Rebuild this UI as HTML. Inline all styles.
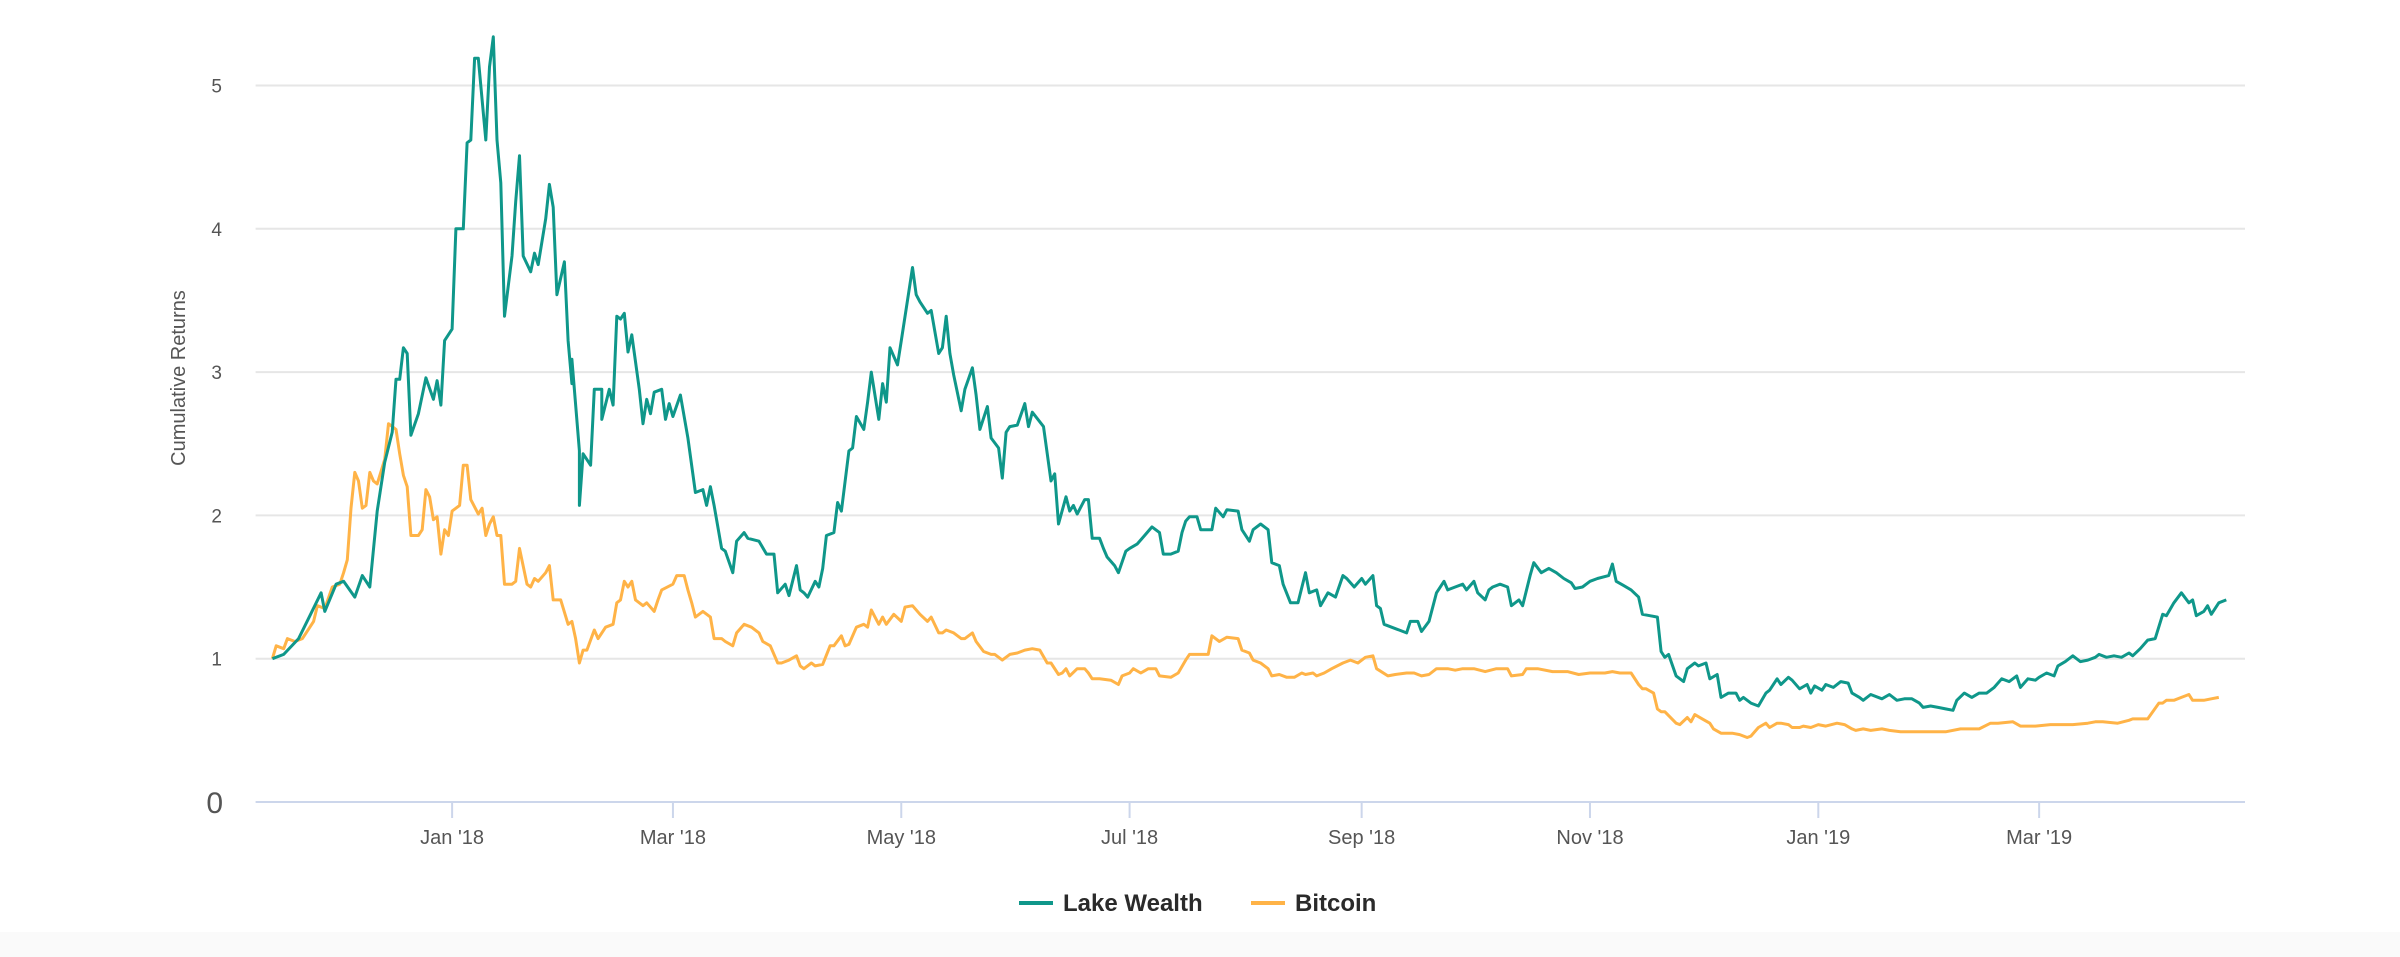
<!DOCTYPE html>
<html><head><meta charset="utf-8"><style>
html,body{margin:0;padding:0;background:#fff;}
body{width:2400px;height:957px;overflow:hidden;position:relative;font-family:"Liberation Sans",sans-serif;}
#band{position:absolute;left:0;top:932px;width:2400px;height:25px;background:#fafafa;}
svg{position:absolute;left:0;top:0;}
</style></head><body>
<div id="band"></div>
<svg id="chart" width="2400" height="957"></svg>
<script>
// days relative to 2018-01-01
const lakeDays=[-48,-45,-41,-38,-35,-34,-31,-29,-26,-24,-22,-20,-18,-16,-15,-14,-13,-12,-11,-9,-7,-5,-4,-3,-2,0,1,3,4,5,6,7,9,10,11,12,13,14,16,17,18,19,21,22,23,25,26,27,28,30,31,32,32,34,34,35,37,38,40,40,42,43,44,45,46,47,48,50,51,52,53,54,56,57,58,59,61,63,65,67,68,69,70,72,73,75,76,78,79,82,84,86,87,89,90,92,93,94,95,97,98,99,100,102,103,104,106,107,108,110,111,112,114,115,116,117,119,120,122,123,124,125,127,128,130,131,132,133,134,136,137,139,140,141,143,144,146,147,148,149,151,153,154,155,158,160,161,162,164,165,166,167,169,170,171,173,174,175,177,178,180,181,183,185,187,189,190,192,194,195,196,197,199,200,203,204,206,207,210,211,213,214,216,218,219,221,222,224,226,228,229,231,232,234,236,238,239,241,243,244,246,247,248,249,251,253,255,256,258,259,261,263,265,266,268,270,271,273,274,276,277,278,280,282,283,285,286,288,289,291,293,295,297,299,300,302,304,306,309,310,311,313,315,317,318,320,322,323,324,325,327,329,330,332,333,335,336,338,339,341,343,344,345,347,349,351,352,354,355,357,358,360,362,363,364,366,367,369,371,373,374,376,377,379,382,384,386,388,390,392,393,395,397,399,401,402,404,406,408,410,412,414,416,418,419,421,423,424,426,428,429,431,433,435,437,439,440,442,444,446,448,449,451,453,455,457,458,460,462,464,465,466,468,469,470,472,474];
const lakeVals=[1.00,1.03,1.14,1.30,1.46,1.33,1.52,1.54,1.43,1.58,1.50,2.03,2.37,2.58,2.95,2.95,3.17,3.13,2.56,2.71,2.96,2.81,2.94,2.77,3.22,3.30,4.00,4.00,4.60,4.62,5.19,5.19,4.62,5.13,5.34,4.62,4.32,3.39,3.81,4.19,4.51,3.81,3.70,3.83,3.75,4.07,4.31,4.15,3.54,3.77,3.22,2.92,3.09,2.45,2.07,2.43,2.35,2.88,2.88,2.67,2.88,2.77,3.39,3.37,3.41,3.14,3.26,2.88,2.64,2.81,2.71,2.86,2.88,2.67,2.78,2.69,2.84,2.54,2.16,2.18,2.07,2.20,2.07,1.77,1.75,1.60,1.82,1.88,1.84,1.82,1.73,1.73,1.46,1.52,1.44,1.65,1.48,1.46,1.43,1.54,1.50,1.63,1.86,1.88,2.09,2.03,2.45,2.47,2.69,2.60,2.79,3.00,2.67,2.92,2.79,3.17,3.05,3.22,3.56,3.73,3.54,3.49,3.41,3.43,3.13,3.17,3.39,3.13,2.98,2.73,2.88,3.03,2.84,2.60,2.76,2.54,2.47,2.26,2.58,2.62,2.63,2.78,2.62,2.72,2.62,2.24,2.29,1.94,2.13,2.03,2.07,2.01,2.11,2.11,1.84,1.84,1.77,1.71,1.65,1.60,1.75,1.77,1.80,1.86,1.92,1.88,1.73,1.73,1.75,1.88,1.96,1.99,1.99,1.90,1.90,2.05,1.99,2.04,2.03,1.90,1.82,1.90,1.94,1.90,1.67,1.65,1.52,1.39,1.39,1.60,1.46,1.48,1.37,1.46,1.43,1.58,1.56,1.50,1.56,1.52,1.58,1.37,1.35,1.24,1.22,1.20,1.18,1.26,1.26,1.19,1.26,1.46,1.54,1.48,1.50,1.52,1.48,1.54,1.46,1.41,1.48,1.50,1.52,1.50,1.37,1.41,1.37,1.58,1.67,1.60,1.63,1.60,1.56,1.53,1.49,1.50,1.54,1.56,1.58,1.66,1.54,1.51,1.48,1.43,1.31,1.30,1.29,1.05,1.01,1.03,0.88,0.84,0.93,0.97,0.95,0.97,0.86,0.89,0.73,0.76,0.76,0.71,0.73,0.69,0.67,0.76,0.78,0.86,0.82,0.87,0.85,0.79,0.82,0.76,0.81,0.78,0.82,0.80,0.84,0.83,0.76,0.73,0.71,0.75,0.72,0.75,0.71,0.72,0.72,0.69,0.66,0.67,0.66,0.65,0.64,0.71,0.76,0.73,0.76,0.76,0.80,0.86,0.84,0.88,0.80,0.86,0.85,0.87,0.90,0.88,0.95,0.98,1.02,0.98,0.99,1.01,1.03,1.01,1.02,1.01,1.04,1.02,1.07,1.13,1.14,1.31,1.30,1.39,1.46,1.39,1.41,1.30,1.33,1.37,1.31,1.39,1.41];
const btcDays=[-48,-47,-45,-44,-42,-40,-39,-37,-36,-34,-32,-30,-29,-28,-27,-26,-25,-24,-23,-22,-21,-20,-18,-17,-15,-14,-13,-12,-11,-9,-8,-7,-6,-5,-4,-3,-2,-1,0,2,3,4,5,7,8,9,10,11,12,13,14,16,17,18,20,21,22,23,25,26,27,29,31,32,33,34,35,36,38,39,41,43,44,45,46,47,48,49,51,52,54,55,56,59,60,62,63,64,65,67,69,70,72,73,75,76,78,80,82,83,85,87,88,90,92,93,94,96,97,99,101,102,104,105,106,108,110,111,112,114,115,116,118,120,121,123,125,127,128,130,131,132,134,136,137,139,140,142,144,145,147,149,151,153,155,157,159,160,162,163,164,165,167,169,170,171,173,176,178,179,181,182,184,186,188,189,192,194,196,197,199,200,202,203,205,207,210,211,213,214,216,218,219,221,223,225,227,228,230,231,233,235,238,240,242,244,246,247,250,252,255,257,259,261,263,266,268,270,273,276,279,282,283,286,287,290,294,298,301,304,306,308,310,312,315,317,318,319,321,322,323,324,327,328,330,331,332,334,336,337,339,340,342,344,346,347,349,351,352,354,355,357,358,360,361,363,365,367,370,372,374,375,377,379,382,384,387,392,396,399,403,404,408,411,413,417,419,420,423,427,429,433,437,439,441,445,448,449,453,456,457,458,460,462,464,465,466,468,470,472,474];
const btcVals=[1.00,1.09,1.07,1.14,1.12,1.14,1.18,1.26,1.37,1.35,1.50,1.52,1.60,1.69,2.05,2.30,2.24,2.05,2.07,2.30,2.24,2.22,2.39,2.64,2.60,2.43,2.28,2.20,1.86,1.86,1.90,2.18,2.13,1.97,1.99,1.73,1.90,1.86,2.03,2.07,2.35,2.35,2.11,2.01,2.05,1.86,1.94,1.99,1.86,1.86,1.52,1.52,1.54,1.77,1.52,1.50,1.56,1.54,1.60,1.65,1.41,1.41,1.24,1.26,1.14,0.97,1.06,1.06,1.20,1.14,1.22,1.24,1.39,1.41,1.54,1.50,1.54,1.41,1.37,1.39,1.33,1.41,1.48,1.52,1.58,1.58,1.48,1.39,1.29,1.33,1.29,1.14,1.14,1.12,1.09,1.18,1.24,1.22,1.18,1.12,1.09,0.97,0.97,0.99,1.02,0.95,0.93,0.97,0.95,0.96,1.09,1.09,1.16,1.09,1.10,1.22,1.24,1.22,1.34,1.24,1.29,1.24,1.31,1.26,1.36,1.37,1.31,1.26,1.29,1.18,1.18,1.20,1.18,1.14,1.14,1.18,1.12,1.05,1.03,1.03,0.99,1.03,1.04,1.06,1.07,1.06,0.97,0.97,0.89,0.90,0.93,0.88,0.93,0.93,0.90,0.86,0.86,0.85,0.82,0.88,0.90,0.93,0.90,0.93,0.93,0.88,0.87,0.90,0.99,1.03,1.03,1.03,1.03,1.16,1.12,1.15,1.14,1.06,1.04,0.99,0.97,0.93,0.88,0.89,0.87,0.87,0.90,0.89,0.90,0.88,0.90,0.93,0.97,0.99,0.97,1.01,1.02,0.93,0.88,0.89,0.90,0.90,0.88,0.89,0.93,0.93,0.92,0.93,0.93,0.91,0.93,0.93,0.88,0.89,0.93,0.93,0.91,0.91,0.89,0.90,0.90,0.90,0.91,0.90,0.90,0.82,0.79,0.79,0.76,0.65,0.63,0.63,0.55,0.54,0.59,0.56,0.61,0.58,0.55,0.51,0.48,0.48,0.48,0.47,0.45,0.46,0.52,0.55,0.52,0.55,0.55,0.54,0.52,0.52,0.53,0.52,0.54,0.53,0.55,0.54,0.51,0.50,0.51,0.50,0.51,0.50,0.49,0.49,0.49,0.49,0.51,0.51,0.51,0.55,0.55,0.56,0.53,0.53,0.53,0.54,0.54,0.54,0.55,0.56,0.56,0.55,0.57,0.58,0.58,0.69,0.69,0.71,0.71,0.73,0.75,0.71,0.71,0.71,0.72,0.73];
const yTicks=[0,1,2,3,4,5];
const xTickDays=[0,59,120,181,243,304,365,424];
const xTickLabels=["Jan '18","Mar '18","May '18","Jul '18","Sep '18","Nov '18","Jan '19","Mar '19"];

const NS='http://www.w3.org/2000/svg';
const svg=document.getElementById('chart');
const X0=255.6,X1=2245,D0=-52.5,D1=114+365;
const xs=d=>X0+(d-D0)*(X1-X0)/(D1-D0);
const ys=v=>802-v*143.3;
function mk(tag,attrs,parent){const e=document.createElementNS(NS,tag);for(const k in attrs)e.setAttribute(k,attrs[k]);(parent||svg).appendChild(e);return e;}

yTicks.forEach((t,i)=>{
  if(t>0){const g=mk('line',{x1:X0,x2:X1,y1:ys(t),y2:ys(t),stroke:'#e6e6e6','stroke-width':2});
  
  }
  const lb=mk('text',{x:t===0?223:222,y:ys(t)+(t===0?11:7),'text-anchor':'end','font-size':t===0?30:19,fill:'#555','font-family':'Liberation Sans, sans-serif'});
  lb.textContent=t;
  
  
});
const ax=mk('line',{x1:X0,x2:X1,y1:802,y2:802,stroke:'#ccd6eb','stroke-width':2});


xTickDays.forEach((d,i)=>{
  const tk=mk('line',{x1:xs(d),x2:xs(d),y1:802,y2:818,stroke:'#ccd6eb','stroke-width':2});
  
  
  const lb=mk('text',{x:xs(d),y:844,'text-anchor':'middle','font-size':20,fill:'#555','font-family':'Liberation Sans, sans-serif'});
  lb.textContent=xTickLabels[i];
  
  
});
const yt=mk('text',{x:0,y:0,transform:'translate(185,378) rotate(-90)','text-anchor':'middle','font-size':20,fill:'#555','font-family':'Liberation Sans, sans-serif'});
yt.textContent='Cumulative Returns';



function series(days,vals,color,name){
  let d='';days.forEach((dd,i)=>{d+=(i?'L':'M')+xs(dd).toFixed(1)+','+ys(vals[i]).toFixed(1);});
  const p=mk('path',{d:d,fill:'none',stroke:color,'stroke-width':3,'stroke-linejoin':'round'});
  
  
}
series(btcDays,btcVals,'#ffb347','bitcoin-line');
series(lakeDays,lakeVals,'#0f978a','lake-wealth-line');

function legend(x,color,label,name){
  const g=mk('g',{});
  
  
  mk('line',{x1:x,x2:x+34,y1:903,y2:903,stroke:color,'stroke-width':4},g);
  const t=mk('text',{x:x+44,y:911,'font-size':24,'font-weight':'bold',fill:'#2a2a2a','font-family':'Liberation Sans, sans-serif'},g);
  t.textContent=label;
}
legend(1019,'#0f978a','Lake Wealth','legend-entry-lake-wealth');
legend(1251,'#ffb347','Bitcoin','legend-entry-bitcoin');
</script>
</body></html>
